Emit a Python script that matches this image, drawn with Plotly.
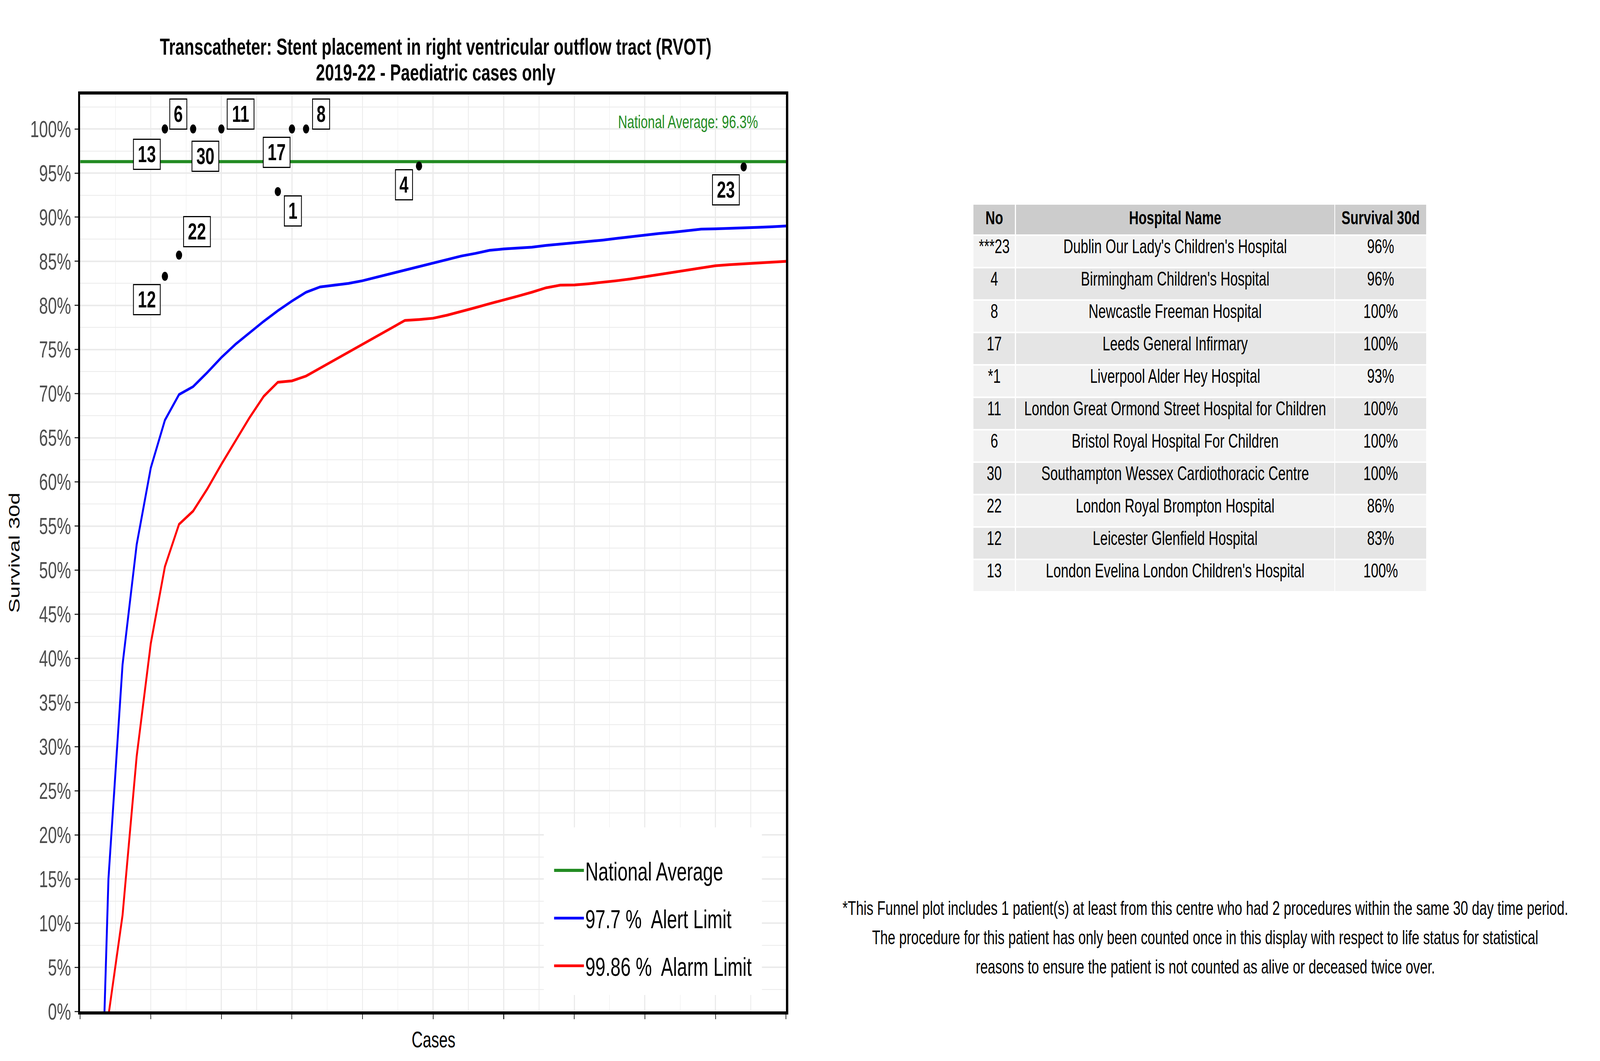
import plotly.graph_objects as go

W, H = 5905, 2716

# ---------------- data ----------------
cases_axis = [1, 2, 3, 4, 5, 6, 7, 8, 9, 10, 11, 12, 13, 14, 15, 16, 17, 18, 19, 20,
              21, 22, 23, 24, 25, 26, 27, 28, 29, 30, 31, 32, 33, 34, 35, 36, 37, 38, 39, 40,
              41, 42, 43, 44, 45, 46, 47, 48, 49, 50]
alert_limit = [-38.6, 15.0, 39.3, 52.9, 61.6, 67.0, 69.9, 70.8, 72.4, 74.1,
               75.6, 76.9, 78.2, 79.4, 80.5, 81.5, 82.1, 82.3, 82.5, 82.8,
               83.2, 83.6, 84.0, 84.4, 84.8, 85.2, 85.6, 85.9, 86.25, 86.4,
               86.5, 86.6, 86.8, 86.95, 87.07, 87.25, 87.4, 87.6, 87.8, 88.0,
               88.15, 88.3, 88.5, 88.65, 88.68, 88.72, 88.78, 88.85, 88.92, 89.0]
alarm_limit = [None, -0.5, 10.9, 28.9, 41.7, 50.4, 55.2, 56.7, 59.2, 62.0,
               64.7, 67.3, 69.7, 71.3, 71.45, 72.0, 72.9, 73.8, 74.7, 75.6,
               76.5, 77.4, 78.3, 78.4, 78.55, 78.9, 79.3, 79.75, 80.2, 80.6,
               81.05, 81.5, 82.0, 82.3, 82.32, 82.45, 82.6, 82.8, 83.0, 83.25,
               83.5, 83.7, 83.95, 84.2, 84.5, 84.62, 84.7, 84.8, 84.9, 85.0]
national_average = 96.3

hosp_no = ["23", "4", "8", "17", "1", "11", "6", "30", "22", "12", "13"]
hosp_cases = [47, 24, 16, 15, 14, 10, 6, 8, 7, 6, 6]
hosp_survival = [95.7, 95.8, 100, 100, 92.9, 100, 100, 100, 85.7, 83.3, 100]

table_no = ["***23", "4", "8", "17", "*1", "11", "6", "30", "22", "12", "13"]
table_name = ["Dublin Our Lady's Children's Hospital", "Birmingham Children's Hospital",
              "Newcastle Freeman Hospital", "Leeds General Infirmary",
              "Liverpool Alder Hey Hospital", "London Great Ormond Street Hospital for Children",
              "Bristol Royal Hospital For Children", "Southampton Wessex Cardiothoracic Centre",
              "London Royal Brompton Hospital", "Leicester Glenfield Hospital",
              "London Evelina London Children's Hospital"]
table_surv = ["96%", "96%", "100%", "100%", "93%", "100%", "100%", "100%", "86%", "83%", "100%"]

y_ticks = [0, 5, 10, 15, 20, 25, 30, 35, 40, 45, 50, 55, 60, 65, 70, 75, 80, 85, 90, 95, 100]
y_ticktext = [f"{v}%" for v in y_ticks]
x_ticks = [0, 5, 10, 15, 20, 25, 30, 35, 40, 45, 50]

footnote = ["*This Funnel plot includes 1 patient(s) at least from this centre who had 2 procedures within the same 30 day time period.",
            "The procedure for this patient has only been counted once in this display with respect to life status for statistical",
            "reasons to ensure the patient is not counted as alive or deceased twice over."]

# label box offsets (pixels) relative to points: (dx, dy up)
label_offsets = {"6": (49, 38), "11": (71, 38), "8": (55, 38), "13": (-67, -65),
                 "30": (45, -70), "17": (-57, -60), "1": (56, -50), "22": (66, 60),
                 "12": (-67, -60), "4": (-55, -48), "23": (-66, -59)}

FONT = "Liberation Sans, Arial, sans-serif"


def px_x(p):
    return p / W


def px_y(p):
    return (H - p) / H


fig = go.Figure()

fig.add_trace(go.Scatter(x=[0, 50], y=[national_average, national_average], mode="lines",
                         line=dict(color="#228B22", width=8), name="National Average",
                         legendgroup="a"))
fig.add_trace(go.Scatter(x=cases_axis, y=alert_limit, mode="lines",
                         line=dict(color="#0000FF", width=7), name="97.7 %\u00a0 Alert Limit",
                         legendgroup="b"))
fig.add_trace(go.Scatter(x=cases_axis, y=alarm_limit, mode="lines",
                         line=dict(color="#FF0000", width=7), name="99.86 %\u00a0 Alarm Limit",
                         legendgroup="c"))
fig.add_trace(go.Scatter(x=hosp_cases, y=hosp_survival, mode="markers",
                         marker=dict(color="black", size=23), showlegend=False,
                         text=hosp_no, hoverinfo="text+x+y"))

annotations = []
for n, cx, cy in zip(hosp_no, hosp_cases, hosp_survival):
    dx, dy = label_offsets[n]
    annotations.append(dict(x=cx, y=cy, xref="x", yref="y", text=f"<b>{n}</b>",
                            showarrow=False, xshift=dx, yshift=dy,
                            font=dict(family=FONT, size=60, color="black"),
                            bgcolor="white", bordercolor="black", borderwidth=3,
                            borderpad=2, width=(92 if len(n) > 1 else 56), height=70))

annotations.append(dict(x=px_x(2800), y=px_y(311), xref="paper", yref="paper",
                        text="National Average: 96.3%", showarrow=False,
                        xanchor="right", yanchor="middle",
                        font=dict(family=FONT, size=47, color="#228B22")))

for line, yc in zip(footnote, [2325, 2400, 2475]):
    annotations.append(dict(x=px_x(4448), y=px_y(yc), xref="paper", yref="paper",
                            text=line, showarrow=False, xanchor="center", yanchor="middle",
                            font=dict(family=FONT, size=50, color="black")))

# axis titles
annotations.append(dict(x=px_x(1600), y=px_y(2661), xref="paper", yref="paper",
                        text="Cases", showarrow=False, xanchor="center", yanchor="middle",
                        font=dict(family=FONT, size=57, color="black")))
annotations.append(dict(x=px_x(53), y=px_y(1415), xref="paper", yref="paper",
                        text="Survival 30d", showarrow=False, textangle=-90,
                        xanchor="center", yanchor="middle",
                        font=dict(family=FONT, size=56, color="black")))

# title
annotations.append(dict(x=px_x(1608), y=px_y(120), xref="paper", yref="paper",
                        text="<b>Transcatheter: Stent placement in right ventricular outflow tract (RVOT)</b>",
                        showarrow=False, xanchor="center", yanchor="middle",
                        font=dict(family=FONT, size=60, color="black")))
annotations.append(dict(x=px_x(1608), y=px_y(186), xref="paper", yref="paper",
                        text="<b>2019-22 - Paediatric cases only</b>",
                        showarrow=False, xanchor="center", yanchor="middle",
                        font=dict(family=FONT, size=60, color="black")))

# table
n_rows = len(table_no)
row_fill = ["#F2F2F2" if i % 2 == 0 else "#E5E5E5" for i in range(n_rows)]
fig.add_trace(go.Table(
    domain=dict(x=[px_x(3591), px_x(5265)], y=[px_y(1522), px_y(522)]),
    columnwidth=[157, 1178, 339],
    header=dict(values=["<b>No</b>", "<b>Hospital Name</b>", "<b>Survival 30d</b>"],
                fill_color="#CCCCCC", line=dict(color="white", width=4),
                align="center", height=80,
                font=dict(family=FONT, size=49, color="black")),
    cells=dict(values=[table_no, table_name, table_surv],
               fill_color=[row_fill, row_fill, row_fill],
               line=dict(color="white", width=4), align="center", height=83,
               font=dict(family=FONT, size=50, color="black"))))

fig.update_layout(
    width=W, height=H, margin=dict(l=0, r=0, t=0, b=0, autoexpand=False),
    paper_bgcolor="white", plot_bgcolor="white",
    font=dict(family=FONT),
    annotations=annotations,
    shapes=[dict(type="rect", xref="paper", yref="paper",
                 x0=px_x(2007), x1=px_x(2812), y0=px_y(2547), y1=px_y(2118),
                 fillcolor="white", line=dict(width=0), layer="above")],
    legend=dict(x=px_x(2040), y=px_y(2178), xanchor="left", yanchor="top",
                bgcolor="rgba(0,0,0,0)", font=dict(family=FONT, size=67, color="black"),
                tracegroupgap=32, itemwidth=110, traceorder="grouped"),
    showlegend=True,
)

fig.update_xaxes(domain=[px_x(296), px_x(2901)], range=[0, 50], tickvals=x_ticks,
                 showticklabels=False, ticks="outside", ticklen=12, tickwidth=3,
                 tickcolor="#333333", showgrid=True, gridcolor="#EBEBEB", gridwidth=4,
                 minor=dict(dtick=2.5, showgrid=True, gridcolor="#EBEBEB", gridwidth=2),
                 showline=True, linecolor="black", linewidth=8, mirror=True,
                 zeroline=False, automargin=False)
fig.update_yaxes(domain=[px_y(2589), px_y(242)], range=[0, 103.9], tickvals=y_ticks,
                 ticktext=y_ticktext, tickfont=dict(family=FONT, size=59, color="#4D4D4D"),
                 ticks="outside", ticklen=12, tickwidth=3, tickcolor="#333333",
                 ticklabelstandoff=2,
                 showgrid=True, gridcolor="#EBEBEB", gridwidth=4,
                 minor=dict(dtick=2.5, showgrid=True, gridcolor="#EBEBEB", gridwidth=2),
                 showline=True, linecolor="black", linewidth=8, mirror=True,
                 zeroline=False, automargin=False)

# stretch the fixed 5905x2716 design so that it fills the browser viewport exactly
fit_script = """
(function(){
  var gd = document.getElementById('{plot_id}');
  function fit(){
    var de = document.documentElement, b = document.body;
    de.style.margin = '0'; de.style.padding = '0'; de.style.overflow = 'hidden';
    b.style.margin = '0'; b.style.padding = '0'; b.style.overflow = 'hidden';
    b.style.background = 'white';
    var sx = window.innerWidth / %d, sy = window.innerHeight / %d;
    var wrap = gd.parentElement;
    wrap.style.width = window.innerWidth + 'px';
    wrap.style.height = window.innerHeight + 'px';
    wrap.style.overflow = 'hidden';
    gd.style.transformOrigin = '0 0';
    gd.style.transform = 'scale(' + sx + ',' + sy + ')';
  }
  fit();
  window.addEventListener('resize', fit);
})();
""" % (W, H)

fig.write_html("out.html", post_script=fit_script,
               config={"displayModeBar": False, "responsive": False})
